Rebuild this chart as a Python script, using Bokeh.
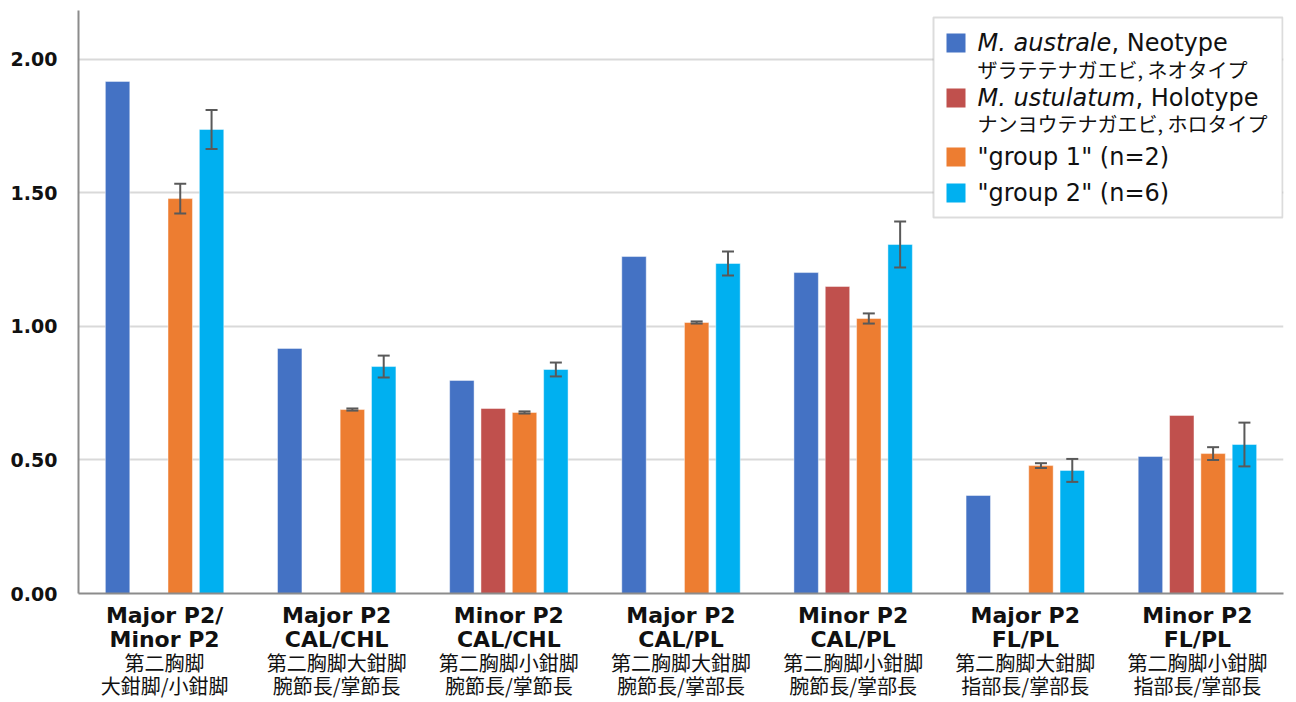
from bokeh.plotting import figure
from bokeh.models import (ColumnDataSource, FactorRange, Range1d, Whisker, TeeHead,
                          CategoricalAxis, FixedTicker, NumeralTickFormatter,
                          BoxAnnotation, Label)
from bokeh.transform import dodge
from bokeh.embed import file_html
from bokeh.resources import INLINE

# ---------------- data ----------------
categories = ["Major P2/\nMinor P2", "Major P2\nCAL/CHL", "Minor P2\nCAL/CHL",
              "Major P2\nCAL/PL", "Minor P2\nCAL/PL", "Major P2\nFL/PL", "Minor P2\nFL/PL"]
labels_ja = ["第二胸脚\n大鉗脚/小鉗脚", "第二胸脚大鉗脚\n腕節長/掌節長", "第二胸脚小鉗脚\n腕節長/掌節長",
             "第二胸脚大鉗脚\n腕節長/掌部長", "第二胸脚小鉗脚\n腕節長/掌部長",
             "第二胸脚大鉗脚\n指部長/掌部長", "第二胸脚小鉗脚\n指部長/掌部長"]

australe = [1.918, 0.918, 0.798, 1.262, 1.202, 0.367, 0.513]
ustulatum = [None, None, 0.693, None, 1.150, None, 0.667]
group1 = [1.479, 0.689, 0.678, 1.015, 1.030, 0.479, 0.524]
group1_err = [0.056, 0.004, 0.004, 0.004, 0.019, 0.009, 0.024]
group2 = [1.738, 0.850, 0.839, 1.236, 1.307, 0.461, 0.558]
group2_err = [0.073, 0.041, 0.026, 0.045, 0.086, 0.043, 0.082]

y_ticks = [0.0, 0.5, 1.0, 1.5, 2.0]

colors = ["#4472C4", "#C0504D", "#ED7D31", "#00B0F0"]
offsets = [-0.273, -0.091, 0.091, 0.273]
bar_w = 0.142

# ---------------- figure ----------------
p = figure(x_range=FactorRange(*categories, range_padding=0),
           y_range=Range1d(0, 2.1835),
           width=1296, height=702, output_backend="svg", toolbar_location=None,
           min_border_left=78, min_border_right=13, min_border_top=10, min_border_bottom=109)
p.outline_line_color = None
p.xgrid.grid_line_color = None
p.ygrid.grid_line_color = "#d9d9d9"
p.ygrid.grid_line_width = 2
p.ygrid.ticker = FixedTicker(ticks=y_ticks)

series = [australe, ustulatum, group1, group2]
for vals, col, off in zip(series, colors, offsets):
    xs = [c for c, v in zip(categories, vals) if v is not None]
    ys = [v for v in vals if v is not None]
    src = ColumnDataSource(dict(x=xs, top=ys))
    p.vbar(x=dodge("x", off, range=p.x_range), top="top", width=bar_w, source=src,
           fill_color=col, line_color="white", line_alpha=0.45, line_width=1)

for vals, errs, off in [(group1, group1_err, offsets[2]), (group2, group2_err, offsets[3])]:
    src = ColumnDataSource(dict(x=categories,
                                upper=[v + e for v, e in zip(vals, errs)],
                                lower=[v - e for v, e in zip(vals, errs)]))
    w = Whisker(base=dodge("x", off, range=p.x_range), upper="upper", lower="lower", source=src,
                line_color="#595959", line_width=2, level="overlay",
                upper_head=TeeHead(size=12, line_color="#595959", line_width=2),
                lower_head=TeeHead(size=12, line_color="#595959", line_width=2))
    p.add_layout(w)

# y axis
ya = p.yaxis[0]
ya.ticker = FixedTicker(ticks=y_ticks)
ya.formatter = NumeralTickFormatter(format="0.00")
ya.axis_line_color = "#8c8c8c"
ya.axis_line_width = 2
ya.major_tick_line_color = None
ya.minor_tick_line_color = None
ya.major_label_standoff = 15
ya.major_label_text_font = "DejaVu Sans"
ya.major_label_text_font_style = "bold"
ya.major_label_text_font_size = "19px"
ya.major_label_text_color = "#111111"

# x axis (bold English lines)
xa = p.xaxis[0]
xa.axis_line_color = "#8c8c8c"
xa.axis_line_width = 2
xa.major_tick_line_color = None
xa.minor_tick_line_color = None
xa.major_label_standoff = 3
xa.major_label_text_font = "DejaVu Sans"
xa.major_label_text_font_style = "bold"
xa.major_label_text_font_size = "22px"
xa.major_label_text_color = "#111111"
xa.major_label_text_line_height = 0.97

# second x axis (Japanese lines) on a parallel factor range
p.extra_x_ranges = {"ja": FactorRange(*labels_ja, range_padding=0)}
xa2 = CategoricalAxis(x_range_name="ja")
xa2.axis_line_color = None
xa2.major_tick_line_color = None
xa2.minor_tick_line_color = None
xa2.major_label_standoff = -13
xa2.major_label_text_font = "Noto Sans CJK JP"
xa2.major_label_text_font_size = "20px"
xa2.major_label_text_color = "#111111"
xa2.major_label_text_line_height = 0.8
p.add_layout(xa2, "below")

# ---------------- legend (manual, screen units from frame origin) ----------------
p.add_layout(BoxAnnotation(left=855, right=1204, top=576, bottom=376,
                           left_units="screen", right_units="screen",
                           top_units="screen", bottom_units="screen",
                           fill_color="white", fill_alpha=1,
                           line_color="#8c8c8c", line_width=2, level="overlay"))
sq_tops = [560, 505, 446, 410]
for col, t in zip(colors, sq_tops):
    p.add_layout(BoxAnnotation(left=868, right=887, top=t, bottom=t - 19,
                               left_units="screen", right_units="screen",
                               top_units="screen", bottom_units="screen",
                               fill_color=col, fill_alpha=1, line_color=None, level="overlay"))

def lab(x, y, text, font="DejaVu Sans", size="24px", style="normal"):
    p.add_layout(Label(x=x, y=y, x_units="screen", y_units="screen", text=text,
                       text_font=font, text_font_size=size, text_font_style=style,
                       text_baseline="middle", text_align="left", text_color="#111111",
                       level="overlay"))

lab(899, 551, "M. australe", style="italic")
lab(1033, 551, ", Neotype")
lab(899, 524, "ザラテテナガエビ, ネオタイプ", font="Noto Sans CJK JP", size="20px")
lab(899, 496, "M. ustulatum", style="italic")
lab(1057, 496, ", Holotype")
lab(899, 470, "ナンヨウテナガエビ, ホロタイプ", font="Noto Sans CJK JP", size="20px")
lab(899, 437, "\"group 1\" (n=2)")
lab(899, 401, "\"group 2\" (n=6)")

open("out.html", "w").write(file_html(p, INLINE))
